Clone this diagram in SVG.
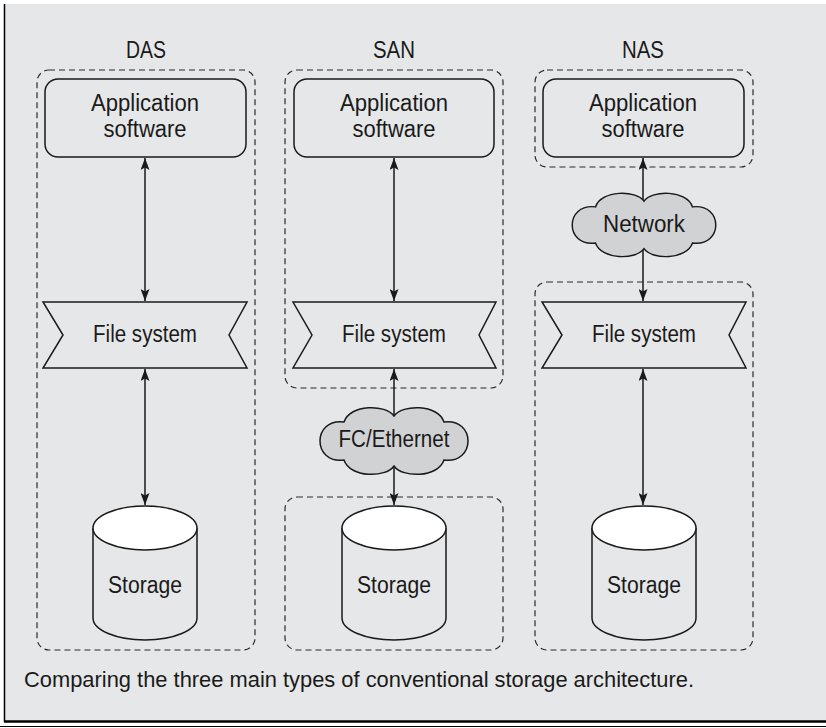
<svg xmlns="http://www.w3.org/2000/svg" width="826" height="728" viewBox="0 0 826 728">
<style>
text{font-family:"Liberation Sans",Arial,sans-serif;font-size:23px;fill:#1a1a1a;text-anchor:middle}
.dash{fill:none;stroke:#2a2a2a;stroke-width:1.2;stroke-dasharray:6 4}
.box{fill:none;stroke:#1a1a1a;stroke-width:1.5}
.fs{fill:#e6e7e8;stroke:#1a1a1a;stroke-width:1.5}
.cloud{fill:#d1d2d4;stroke:#1a1a1a;stroke-width:1.5}
.cyl{fill:#e6e7e8;stroke:#1a1a1a;stroke-width:1.5}
.top{fill:#ffffff;stroke:#1a1a1a;stroke-width:1.5}
.conn{stroke:#1a1a1a;stroke-width:1.5;fill:none}
</style>
<defs>
<marker id="ah" markerUnits="userSpaceOnUse" markerWidth="12" markerHeight="9" refX="12" refY="4.5" orient="auto-start-reverse" viewBox="0 0 12 9">
<path d="M0,0 L12,4.5 L0,9 L2.5,4.5 z" fill="#1a1a1a"/>
</marker>
<path id="cloudshape" d="M0,-24 C8,-36 44,-36 50,-18 C82,-22 82,24 50,20 C44,38 8,38 0,26 C-8,38 -44,38 -50,20 C-82,24 -82,-22 -50,-18 C-44,-36 -8,-36 0,-24 Z"/>
</defs>
<rect x="0" y="0" width="826" height="728" fill="#ffffff"/>
<rect x="4" y="4" width="822" height="717" fill="#e6e7e8"/>
<line x1="4.5" y1="4" x2="4.5" y2="722" stroke="#000" stroke-width="1.5"/>
<line x1="4" y1="721.5" x2="826" y2="721.5" stroke="#000" stroke-width="2.5"/>
<line x1="0" y1="726.5" x2="826" y2="726.5" stroke="#000" stroke-width="1"/>

<g id="containers">
<rect class="dash" x="37" y="70" width="218" height="580" rx="12"/>
<rect class="dash" x="285" y="70" width="218" height="318" rx="12"/>
<rect class="dash" x="285" y="497" width="218" height="153" rx="12"/>
<rect class="dash" x="535" y="70" width="218" height="97" rx="12"/>
<rect class="dash" x="535" y="282" width="218" height="368" rx="12"/>
</g>

<g id="labels">
<text x="146" y="58" textLength="40" lengthAdjust="spacingAndGlyphs">DAS</text>
<text x="394" y="58" textLength="42" lengthAdjust="spacingAndGlyphs">SAN</text>
<text x="643" y="58" textLength="42" lengthAdjust="spacingAndGlyphs">NAS</text>
</g>

<g id="connectors">
<line class="conn" x1="145" y1="158" x2="145" y2="301" marker-start="url(#ah)" marker-end="url(#ah)"/>
<line class="conn" x1="145" y1="369" x2="145" y2="505" marker-start="url(#ah)" marker-end="url(#ah)"/>
<line class="conn" x1="394" y1="158" x2="394" y2="301" marker-start="url(#ah)" marker-end="url(#ah)"/>
<line class="conn" x1="394" y1="369" x2="394" y2="416" marker-start="url(#ah)"/>
<line class="conn" x1="394" y1="466" x2="394" y2="505" marker-end="url(#ah)"/>
<line class="conn" x1="643" y1="158" x2="643" y2="201" marker-start="url(#ah)"/>
<line class="conn" x1="643" y1="249" x2="643" y2="301" marker-end="url(#ah)"/>
<line class="conn" x1="643" y1="369" x2="643" y2="505" marker-start="url(#ah)" marker-end="url(#ah)"/>
</g>

<g id="das-app">
<rect class="box" x="45" y="79" width="201" height="78" rx="13"/>
<text x="145" y="111" textLength="108" lengthAdjust="spacingAndGlyphs">Application</text>
<text x="145" y="137" textLength="83" lengthAdjust="spacingAndGlyphs">software</text>
</g>
<g id="das-fs">
<polygon class="fs" points="43,302 247,302 229,335 247,368 43,368 63,335"/>
<text x="145" y="342" textLength="104" lengthAdjust="spacingAndGlyphs">File system</text>
</g>
<g id="das-storage">
<path class="cyl" d="M93,528 L93,618 A52,22 0 0 0 197,618 L197,528"/>
<ellipse class="top" cx="145" cy="528" rx="52" ry="22"/>
<text x="145" y="593" textLength="74" lengthAdjust="spacingAndGlyphs">Storage</text>
</g>

<g id="san-app">
<rect class="box" x="294" y="79" width="200" height="78" rx="13"/>
<text x="394" y="111" textLength="108" lengthAdjust="spacingAndGlyphs">Application</text>
<text x="394" y="137" textLength="83" lengthAdjust="spacingAndGlyphs">software</text>
</g>
<g id="san-fs">
<polygon class="fs" points="293,302 496,302 479,335 496,368 293,368 312,335"/>
<text x="394" y="342" textLength="104" lengthAdjust="spacingAndGlyphs">File system</text>
</g>
<g id="san-cloud">
<use href="#cloudshape" class="cloud" transform="translate(394,440)"/>
<text x="394" y="447" textLength="111" lengthAdjust="spacingAndGlyphs">FC/Ethernet</text>
</g>
<g id="san-storage">
<path class="cyl" d="M342,528 L342,618 A52,22 0 0 0 446,618 L446,528"/>
<ellipse class="top" cx="394" cy="528" rx="52" ry="22"/>
<text x="394" y="593" textLength="74" lengthAdjust="spacingAndGlyphs">Storage</text>
</g>

<g id="nas-app">
<rect class="box" x="543" y="79" width="201" height="78" rx="13"/>
<text x="643" y="111" textLength="108" lengthAdjust="spacingAndGlyphs">Application</text>
<text x="643" y="137" textLength="83" lengthAdjust="spacingAndGlyphs">software</text>
</g>
<g id="nas-cloud">
<use href="#cloudshape" class="cloud" transform="translate(644,224) scale(0.97,0.95)"/>
<text x="644" y="232" textLength="82" lengthAdjust="spacingAndGlyphs">Network</text>
</g>
<g id="nas-fs">
<polygon class="fs" points="542,302 746,302 729,335 746,368 542,368 562,335"/>
<text x="644" y="342" textLength="104" lengthAdjust="spacingAndGlyphs">File system</text>
</g>
<g id="nas-storage">
<path class="cyl" d="M592,528 L592,618 A52,22 0 0 0 696,618 L696,528"/>
<ellipse class="top" cx="644" cy="528" rx="52" ry="22"/>
<text x="644" y="593" textLength="74" lengthAdjust="spacingAndGlyphs">Storage</text>
</g>

<text x="24" y="687" style="text-anchor:start;font-size:22px" textLength="670" lengthAdjust="spacingAndGlyphs">Comparing the three main types of conventional storage architecture.</text>
</svg>
